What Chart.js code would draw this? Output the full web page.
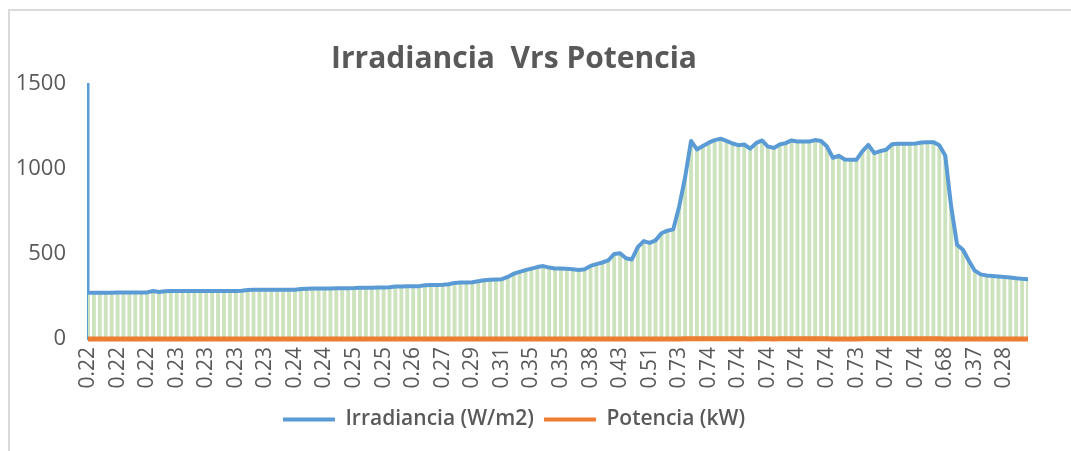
<!DOCTYPE html>
<html>
<head>
<meta charset="utf-8">
<script src="https://cdn.jsdelivr.net/npm/chart.js@4/dist/chart.umd.min.js"></script>
<style>
  html, body { margin: 0; padding: 0; background: #fff; }
  #frame { position: absolute; left: 8px; top: 9px; width: 1100px; height: 500px;
           border-left: 2px solid #d9d9d9; border-top: 2px solid #d9d9d9; }
  #wrap { position: absolute; left: 0; top: 0; width: 1071px; height: 451px; }
</style>
</head>
<body>
<div id="frame"></div>
<div id="wrap"><canvas id="chartCanvas"></canvas></div>
<script>
// Potencia (kW), also used as the category labels
let potencia = [
    0.22, 0.22, 0.22, 0.22, 0.22, 0.22, 0.22, 0.22, 0.22, 0.22,
    0.22, 0.23, 0.22, 0.23, 0.23, 0.23, 0.23, 0.23, 0.23, 0.23,
    0.23, 0.23, 0.23, 0.23, 0.23, 0.23, 0.23, 0.23, 0.23, 0.23,
    0.23, 0.23, 0.24, 0.24, 0.24, 0.24, 0.24, 0.24, 0.24, 0.24,
    0.24, 0.24, 0.24, 0.25, 0.25, 0.25, 0.25, 0.25, 0.25, 0.25,
    0.25, 0.25, 0.25, 0.26, 0.26, 0.26, 0.26, 0.26, 0.27, 0.27,
    0.27, 0.27, 0.28, 0.28, 0.28, 0.29, 0.29, 0.30, 0.30, 0.30,
    0.31, 0.32, 0.33, 0.34, 0.34, 0.35, 0.36, 0.36, 0.36, 0.35,
    0.35, 0.35, 0.35, 0.34, 0.35, 0.38, 0.39, 0.40, 0.41, 0.43,
    0.43, 0.42, 0.41, 0.46, 0.49, 0.51, 0.51, 0.54, 0.55, 0.56,
    0.73, 0.74, 0.74, 0.74, 0.74, 0.74, 0.74, 0.74, 0.74, 0.74,
    0.74, 0.74, 0.73, 0.74, 0.74, 0.74, 0.73, 0.74, 0.74, 0.74,
    0.74, 0.74, 0.74, 0.74, 0.74, 0.74, 0.73, 0.73, 0.73, 0.73,
    0.73, 0.74, 0.74, 0.74, 0.74, 0.74, 0.74, 0.74, 0.74, 0.74,
    0.74, 0.74, 0.74, 0.74, 0.74, 0.68, 0.60, 0.49, 0.46, 0.41,
    0.37, 0.34, 0.32, 0.31, 0.30, 0.28, 0.28, 0.27, 0.27, 0.26
];

// Irradiancia (W/m2)
let irradiancia = [
    272, 272, 272, 272, 272, 273, 273, 273, 273, 273,
    274, 282, 276, 281, 282, 282, 282, 282, 283, 283,
    283, 283, 283, 283, 283, 283, 284, 288, 289, 289,
    289, 289, 289, 290, 290, 290, 294, 296, 297, 297,
    297, 297, 298, 298, 299, 300, 302, 302, 302, 303,
    303, 304, 309, 309, 310, 310, 311, 316, 318, 318,
    319, 322, 330, 332, 332, 334, 340, 345, 348, 350,
    352, 365, 384, 395, 405, 414, 423, 429, 420, 415,
    414, 413, 410, 406, 410, 430, 440, 450, 462, 500,
    505, 475, 468, 540, 576, 565, 580, 622, 637, 645,
    780, 950, 1165, 1115, 1135, 1155, 1170, 1178, 1165, 1150,
    1140, 1144, 1120, 1152, 1168, 1132, 1124, 1144, 1152, 1168,
    1162, 1162, 1162, 1170, 1165, 1132, 1066, 1078, 1056, 1055,
    1055, 1105, 1142, 1093, 1105, 1113, 1146, 1148, 1148, 1148,
    1150, 1156, 1158, 1158, 1140, 1080, 780, 555, 525, 460,
    402, 380, 374, 371, 368, 365, 362, 357, 354, 352
];

let labels = potencia.map(v => v.toFixed(2));
let yTicks = [0, 500, 1000, 1500];

const gray = '#595959';
const blue = 'rgb(91, 155, 213)';
const orange = 'rgb(237, 125, 49)';
const green = 'rgb(205, 227, 190)';

let ctx = document.getElementById('chartCanvas').getContext('2d');

window.chart = new Chart(ctx, {
    data: {
        labels: labels,
        datasets: [{
            type: 'line',
            label: 'Irradiancia (W/m2)',
            data: irradiancia,
            borderColor: blue,
            backgroundColor: blue,
            borderWidth: 4,
            pointRadius: 0,
            borderJoinStyle: 'round',
            clip: 6,
            order: 1
        }, {
            type: 'line',
            label: 'Potencia (kW)',
            data: potencia,
            borderColor: orange,
            backgroundColor: orange,
            borderWidth: 5,
            pointRadius: 0,
            clip: 6,
            order: 2
        }, {
            type: 'bar',
            label: 'relleno',
            data: irradiancia,
            backgroundColor: green,
            barPercentage: 0.66,
            categoryPercentage: 1,
            order: 3
        }]
    },
    options: {
        responsive: true,
        maintainAspectRatio: false,
        animation: false,
        layout: { padding: { left: 0, right: 43, top: 0, bottom: 11 } },
        plugins: {
            tooltip: { enabled: false },
            title: {
                display: true,
                text: 'Irradiancia  Vrs Potencia',
                color: gray,
                font: { family: "'Open Sans', sans-serif", size: 30, weight: 'bold', lineHeight: 1.2 },
                padding: { top: 41, bottom: 7 }
            },
            legend: {
                position: 'bottom',
                labels: {
                    color: gray,
                    font: { family: "'Open Sans', sans-serif", size: 21, weight: '600' },
                    boxWidth: 52,
                    boxHeight: 4,
                    padding: 10,
                    filter: item => item.datasetIndex !== 2,
                    generateLabels: function (chart) {
                        let items = Chart.defaults.plugins.legend.labels.generateLabels(chart);
                        items.forEach(it => { it.lineWidth = 0; });
                        return items;
                    }
                }
            }
        },
        scales: {
            x: {
                offset: false,
                grid: { display: false, drawTicks: false },
                border: { display: false },
                ticks: {
                    autoSkip: false,
                    maxRotation: 90,
                    minRotation: 90,
                    padding: 8,
                    color: gray,
                    font: { family: "'Open Sans', sans-serif", size: 21 },
                    callback: (v, i) => (i % 5 === 0 ? labels[i] : null)
                },
                afterFit: scale => { scale.height = 60; }
            },
            y: {
                min: 0,
                max: 1500,
                grid: { display: false, drawTicks: false },
                border: { display: true, color: blue, width: 2.5 },
                afterBuildTicks: scale => { scale.ticks = yTicks.map(v => ({ value: v })); },
                ticks: {
                    padding: 22,
                    color: gray,
                    font: { family: "'Open Sans', sans-serif", size: 22 },
                    callback: v => String(v)
                },
                afterFit: scale => { scale.width = 88; }
            }
        }
    }
});
</script>
</body>
</html>
